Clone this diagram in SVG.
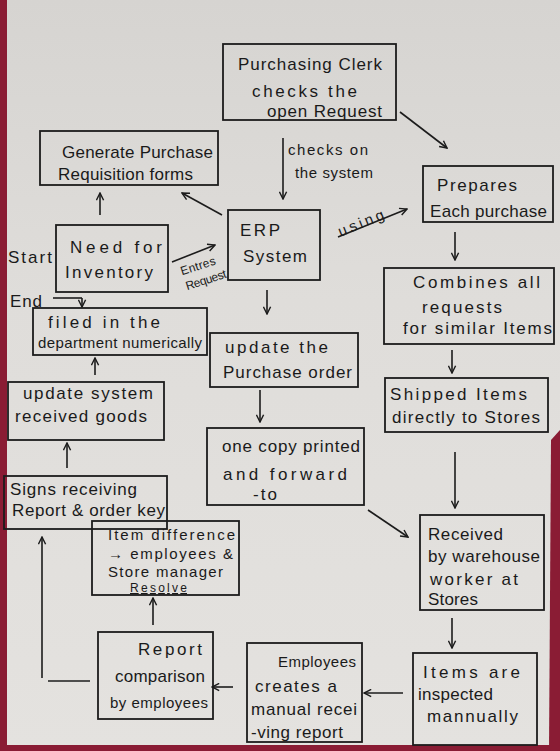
<svg xmlns="http://www.w3.org/2000/svg" width="560" height="751" viewBox="0 0 560 751">
  <style>
    .box { fill: none; stroke: #1c1c1c; stroke-width: 1.8; }
    .t { font-family: "Liberation Sans", "DejaVu Sans", sans-serif; font-size: 17px; fill: #1a1a1a; }
    .m { font-family: "Liberation Sans", "DejaVu Sans", sans-serif; font-size: 15px; fill: #1a1a1a; }
    .s { font-family: "Liberation Sans", "DejaVu Sans", sans-serif; font-size: 12px; fill: #1a1a1a; }
    .c { fill: none; stroke: #1c1c1c; stroke-width: 1.6; marker-end: url(#ah); }
    .l { fill: none; stroke: #1c1c1c; stroke-width: 1.6; }
  </style>
  <defs>
    <marker id="ah" viewBox="0 0 10 10" refX="9" refY="5" markerWidth="9" markerHeight="9" markerUnits="userSpaceOnUse" orient="auto">
      <path d="M1,1 L9,5 L1,9" fill="none" stroke="#1c1c1c" stroke-width="1.6"/>
    </marker>
    <linearGradient id="paper" x1="0" y1="0" x2="0" y2="1">
      <stop offset="0" stop-color="#d6d4d1"/>
      <stop offset="0.4" stop-color="#dfddda"/>
      <stop offset="1" stop-color="#e4e2df"/>
    </linearGradient>
  </defs>

  <!-- background (photo of paper) -->
  <rect x="0" y="0" width="560" height="751" fill="url(#paper)"/>
  <rect x="0" y="0" width="7" height="751" fill="#8a1c34"/>
  <path d="M551,440 L560,430 L560,751 L549,751 Z" fill="#8a1c34"/>
  <rect x="0" y="745" width="560" height="6" fill="#8a1c34"/>

  <!-- connectors -->
  <g id="connectors">
    <path class="c" d="M400,112 L447,148"/>
    <path class="c" d="M283,138 L283,199"/>
    <path class="c" d="M100,215 L100,193"/>
    <path class="c" d="M222,215 L182,193"/>
    <path class="c" d="M172,262 L215,245"/>
    <path class="c" d="M338,237 L407,209"/>
    <path class="c" d="M267,290 L267,314"/>
    <path class="c" d="M455,232 L455,260"/>
    <path class="c" d="M452,350 L452,373"/>
    <path class="c" d="M260,390 L260,422"/>
    <path class="c" d="M455,452 L455,508"/>
    <path class="c" d="M368,510 L408,537"/>
    <path class="c" d="M452,618 L452,648"/>
    <path class="c" d="M403,693 L364,693"/>
    <path class="c" d="M233,687 L212,687"/>
    <path class="c" d="M153,625 L153,598"/>
    <path class="l" d="M90,681 L48,681"/>
    <path class="c" d="M42,678 L42,537"/>
    <path class="c" d="M67,468 L67,443"/>
    <path class="c" d="M95,375 L95,358"/>
    <path class="l" d="M53,298 L82,298"/>
    <path class="c" d="M82,298 L82,307"/>
    <text class="m" x="288" y="155" textLength="80">checks on</text>
    <text class="m" x="295" y="178" textLength="78">the system</text>
    <text class="m" x="337" y="228" textLength="48" transform="rotate(-22 361 223)">using</text>
    <text class="s" x="180" y="270" textLength="36" transform="rotate(-18 198 266)">Entres</text>
    <text class="s" x="185" y="284" textLength="42" transform="rotate(-18 206 280)">Request</text>
    <text class="t" x="8" y="263" textLength="44">Start</text>
    <text class="t" x="10" y="307" textLength="32">End</text>
  </g>

  <g id="purchasing-clerk">
    <rect class="box" x="223" y="44" width="173" height="76"/>
    <text class="t" x="238" y="70" textLength="144">Purchasing Clerk</text>
    <text class="t" x="252" y="97" textLength="105">checks the</text>
    <text class="t" x="267" y="117" textLength="115">open Request</text>
  </g>

  <g id="generate-requisition">
    <rect class="box" x="40" y="131" width="178" height="54"/>
    <text class="t" x="62" y="158" textLength="151">Generate Purchase</text>
    <text class="t" x="58" y="180" textLength="135">Requisition forms</text>
  </g>

  <g id="prepares">
    <rect class="box" x="423" y="166" width="130" height="56"/>
    <text class="t" x="437" y="191" textLength="80">Prepares</text>
    <text class="t" x="430" y="217" textLength="117">Each purchase</text>
  </g>

  <g id="need-inventory">
    <rect class="box" x="56" y="225" width="112" height="67"/>
    <text class="t" x="70" y="253" textLength="92">Need for</text>
    <text class="t" x="65" y="278" textLength="88">Inventory</text>
  </g>

  <g id="erp-system">
    <rect class="box" x="228" y="210" width="92" height="70"/>
    <text class="t" x="240" y="236" textLength="40">ERP</text>
    <text class="t" x="243" y="262" textLength="64">System</text>
  </g>

  <g id="combines">
    <rect class="box" x="384" y="268" width="170" height="76"/>
    <text class="t" x="413" y="288" textLength="127">Combines all</text>
    <text class="t" x="422" y="313" textLength="80">requests</text>
    <text class="t" x="403" y="334" textLength="149">for similar Items</text>
  </g>

  <g id="filed">
    <rect class="box" x="33" y="308" width="174" height="47"/>
    <text class="t" x="48" y="328" textLength="112">filed in the</text>
    <text class="m" x="38" y="348" textLength="164">department numerically</text>
  </g>

  <g id="update-po">
    <rect class="box" x="210" y="333" width="148" height="54"/>
    <text class="t" x="225" y="353" textLength="103">update the</text>
    <text class="t" x="223" y="378" textLength="129">Purchase order</text>
  </g>

  <g id="update-system">
    <rect class="box" x="8" y="382" width="156" height="58"/>
    <text class="t" x="23" y="399" textLength="130">update system</text>
    <text class="t" x="15" y="422" textLength="132">received goods</text>
  </g>

  <g id="shipped">
    <rect class="box" x="385" y="378" width="163" height="54"/>
    <text class="t" x="390" y="400" textLength="137">Shipped Items</text>
    <text class="t" x="392" y="423" textLength="148">directly to Stores</text>
  </g>

  <g id="one-copy">
    <rect class="box" x="207" y="428" width="157" height="77"/>
    <text class="t" x="222" y="452" textLength="138">one copy printed</text>
    <text class="t" x="223" y="480" textLength="124">and forward</text>
    <text class="t" x="253" y="500" textLength="24">-to</text>
  </g>

  <g id="signs">
    <rect class="box" x="4" y="476" width="163" height="53"/>
    <text class="t" x="10" y="495" textLength="127">Signs receiving</text>
    <text class="t" x="12" y="516" textLength="153">Report &amp; order key</text>
  </g>

  <g id="item-difference">
    <rect class="box" x="92" y="521" width="147" height="74"/>
    <text class="m" x="108" y="540" textLength="127">Item difference</text>
    <text class="m" x="108" y="559" textLength="125">→ employees &amp;</text>
    <text class="m" x="108" y="577" textLength="115">Store manager</text>
    <text class="s" x="130" y="592" textLength="57" text-decoration="underline">Resolve</text>
  </g>

  <g id="received">
    <rect class="box" x="420" y="515" width="124" height="95"/>
    <text class="t" x="428" y="540" textLength="75">Received</text>
    <text class="t" x="428" y="562" textLength="112">by warehouse</text>
    <text class="t" x="430" y="585" textLength="88">worker at</text>
    <text class="t" x="428" y="605" textLength="50">Stores</text>
  </g>

  <g id="report-comparison">
    <rect class="box" x="98" y="632" width="115" height="87"/>
    <text class="t" x="138" y="655" textLength="64">Report</text>
    <text class="t" x="115" y="682" textLength="90">comparison</text>
    <text class="m" x="110" y="708" textLength="98">by employees</text>
  </g>

  <g id="employees-report">
    <rect class="box" x="247" y="643" width="115" height="99"/>
    <text class="m" x="278" y="667" textLength="78">Employees</text>
    <text class="t" x="255" y="692" textLength="82">creates a</text>
    <text class="t" x="251" y="715" textLength="106">manual recei</text>
    <text class="t" x="251" y="738" textLength="92">-ving report</text>
  </g>

  <g id="items-inspected">
    <rect class="box" x="413" y="653" width="124" height="92"/>
    <text class="t" x="423" y="678" textLength="97">Items are</text>
    <text class="t" x="418" y="700" textLength="75">inspected</text>
    <text class="t" x="427" y="722" textLength="91">mannually</text>
  </g>
</svg>
